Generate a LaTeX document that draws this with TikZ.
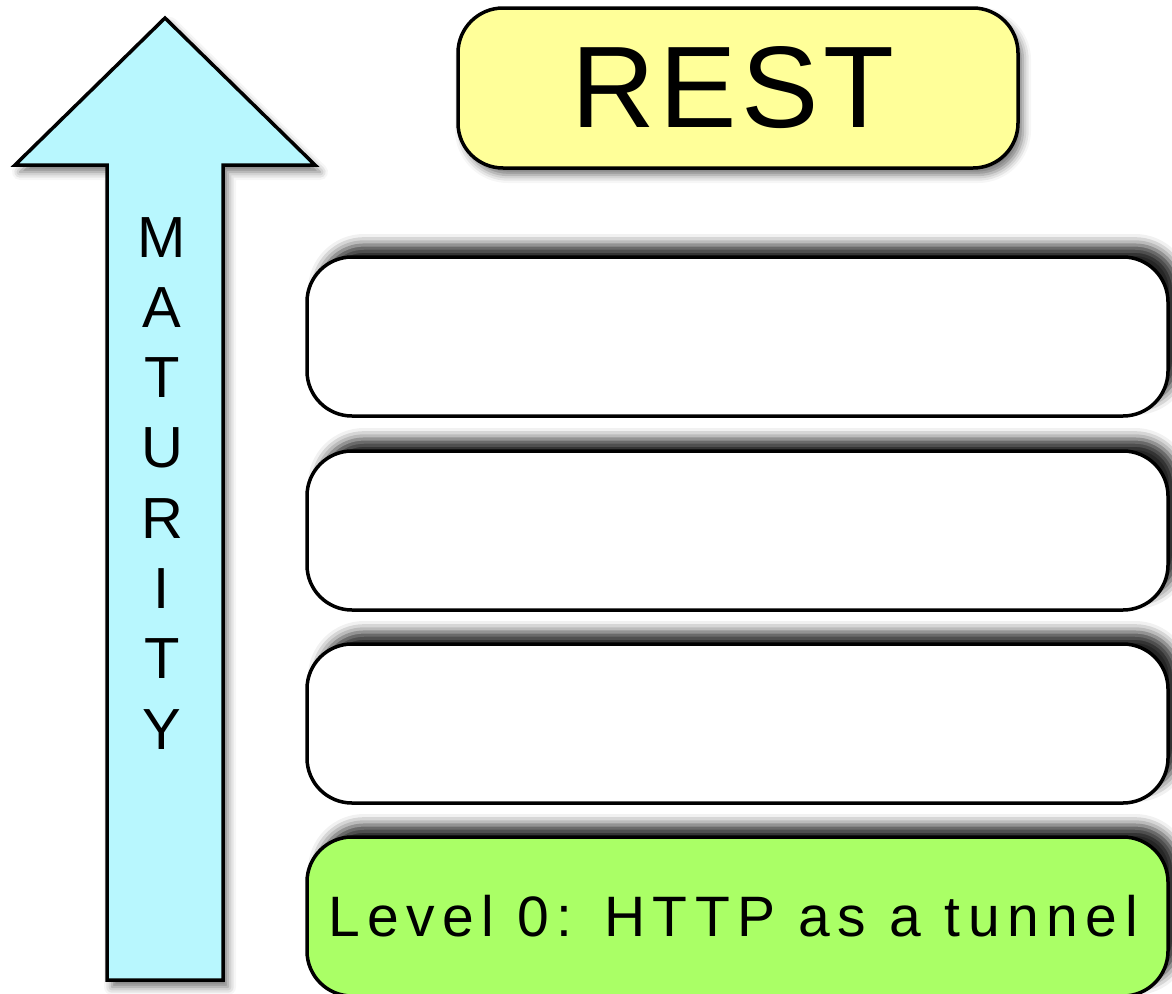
\documentclass[tikz,border=0pt]{standalone}
\usepackage{fontspec}
\setmainfont{Liberation Sans}
\newfontfamily\spaced[LetterSpace=13.2]{Liberation Sans}
\newfontfamily\restfont[LetterSpace=4]{Liberation Sans}
\usetikzlibrary{shadows.blur}
\definecolor{arrowcyan}{HTML}{B8F7FE}
\definecolor{restyellow}{HTML}{FFFF99}
\definecolor{levelgreen}{HTML}{AAFF66}
\tikzset{
  outline/.style={draw=black, line width=3.5pt, line join=miter},
  downshadow/.style={blur shadow={shadow xshift=5pt, shadow yshift=-7pt, shadow blur radius=8pt, shadow opacity=55}},
  upshadow/.style={blur shadow={shadow xshift=12pt, shadow yshift=12pt, shadow blur radius=11pt, shadow opacity=85}},
  levelbox/.style={outline, upshadow, rounded corners=45pt, minimum width=861pt, minimum height=159pt, inner sep=0pt, fill=white},
  restbox/.style={outline, downshadow, rounded corners=45pt, minimum width=560pt, minimum height=160pt, inner sep=0pt, fill=restyellow},
  letter/.style={anchor=base, inner sep=0pt, font=\fontsize{58}{58}\selectfont},
}
\begin{document}
\begin{tikzpicture}[x=1pt,y=-1pt]
\useasboundingbox (0,0) rectangle (1172,993);
% maturity arrow
\path[outline, downshadow, fill=arrowcyan]
  (15,165) -- (165,18) -- (315,165) -- (223,165) -- (223,980) -- (107,980) -- (107,165) -- cycle;
\foreach \l [count=\i from 0] in {M,A,T,U,R,I,T,Y}
  \node[letter] (m\i) at (162,257+\i*70.3) {\l};
% REST box
\node[restbox] (rest) at (738,88) {};
\node[inner sep=0pt, font=\restfont\fontsize{116}{116}\selectfont] (resttext) at (733,88) {REST};
% levels
\node[levelbox] (l3) at (737.5,336.5) {};
\node[levelbox] (l2) at (737.5,530.5) {};
\node[levelbox] (l1) at (737.5,723.5) {};
\node[levelbox, fill=levelgreen] (l0) at (737.5,916.5) {};
\node[inner sep=0pt, font=\spaced\fontsize{57}{57}\selectfont] (l0text) at (733,916.5) {Level 0: HTTP as a tunnel};
\end{tikzpicture}
\end{document}
